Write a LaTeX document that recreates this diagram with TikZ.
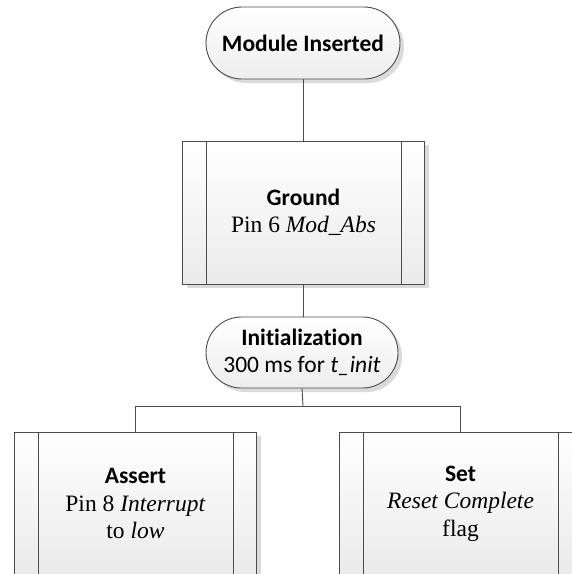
\documentclass[tikz,border=0pt]{standalone}
\usepackage{fontspec}
\setmainfont{Liberation Serif}
\newfontfamily\calfont[Ligatures={NoCommon}]{Carlito}
\usetikzlibrary{shapes.misc,shadows}
\tikzset{
  x=1pt, y=-1pt,
  edge/.style={draw=black!70, line width=0.9pt},
  shad/.style={drop shadow={shadow xshift=4pt, shadow yshift=-4pt, fill=black!14, opacity=1}},
  pill/.style={rounded rectangle, draw=black!70, line width=0.9pt, top color=white, bottom color=black!7,
     shad, minimum width=194pt, minimum height=72pt, inner sep=0pt, align=center,
     font=\calfont\fontsize{23.5}{27}\selectfont},
  procbox/.style={rectangle, draw=black!70, line width=0.9pt, top color=white, bottom color=black!8,
     shad, minimum width=242pt, minimum height=143pt, inner sep=0pt, align=center,
     font=\fontsize{23.5}{27.5}\selectfont},
  inner/.style={draw=black!70, line width=0.9pt}
}
\newcommand{\hd}[1]{{\calfont\bfseries #1}}
\begin{document}
\begin{tikzpicture}
\useasboundingbox (0,0) rectangle (572,574);
\clip (0,0) rectangle (572,574);
\fill[white] (0,0) rectangle (572,574);

\node[pill] (mi) at (303,43) {\bfseries Module Inserted};
\node[procbox] (gr) at (303.5,212.5) {\hd{Ground}\\Pin 6 \textit{Mod\_Abs}};
\node[pill, minimum height=71pt, minimum width=192pt] (in) at (302,352.5) {\bfseries Initialization\\300 ms for \textit{t\_init}};
\node[procbox] (as) at (135.5,503.5) {\hd{Assert}\\Pin 8 \textit{Interrupt}\\to \textit{low}};
\node[procbox] (se) at (460.5,503.5) {\hd{Set}\\\textit{Reset Complete}\\flag};

\foreach \n in {gr,as,se}{
  \draw[inner] ([xshift=24pt]\n.north west) -- ([xshift=24pt]\n.south west);
  \draw[inner] ([xshift=-24pt]\n.north east) -- ([xshift=-24pt]\n.south east);
}

\coordinate (br) at (303,406);
\draw[edge] (mi.south) -- (mi.south |- gr.north);
\draw[edge] (gr.south) -- (gr.south |- in.north);
\draw[edge] (in.south |- in.south) -- (br);
\draw[edge] (br) -| (as.north);
\draw[edge] (br) -| (se.north);
\end{tikzpicture}
\end{document}
